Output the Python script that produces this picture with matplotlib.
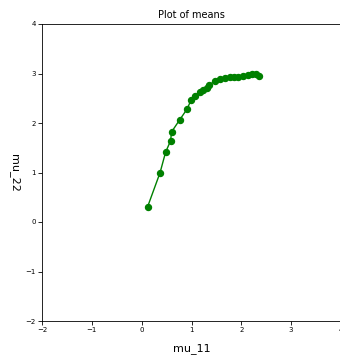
import matplotlib
matplotlib.use("Agg")
import matplotlib.pyplot as plt

mu_11 = [0.12, 0.37, 0.48, 0.58, 0.60, 0.76, 0.91, 0.99, 1.08, 1.17, 1.24, 1.31,
         1.36, 1.47, 1.57, 1.67, 1.78, 1.86, 1.94, 2.04, 2.14, 2.22, 2.30, 2.36]
mu_22 = [0.31, 1.00, 1.41, 1.64, 1.82, 2.06, 2.28, 2.46, 2.55, 2.62, 2.67, 2.71,
         2.77, 2.85, 2.89, 2.90, 2.92, 2.93, 2.92, 2.94, 2.96, 2.98, 2.99, 2.94]
xticks = [-2, -1, 0, 1, 2, 3, 4]
yticks = [-2, -1, 0, 1, 2, 3, 4]

fig = plt.figure(figsize=(3.4, 3.55), dpi=100)
ax = fig.add_axes([42/340, 34/355, 299/340, 297/355])
ax.plot(mu_11, mu_22, "o-", color="g", markersize=4.3, linewidth=1)

ax.set_xlim(-2, 4)
ax.set_ylim(-2, 4)
ax.set_xticks(xticks)
ax.set_yticks(yticks)
ax.tick_params(labelsize=5, length=3, width=0.6, pad=1.5)
for s in ax.spines.values():
    s.set_linewidth(0.6)
ax.set_title("Plot of means", fontsize=7, pad=4)
ax.set_xlabel("mu_11", fontsize=8, labelpad=7)
ax.set_ylabel("mu_22", fontsize=8, rotation=270, va="center")
ax.yaxis.set_label_coords(-28/299, 0.5)

fig.savefig("out.png", dpi=100)
